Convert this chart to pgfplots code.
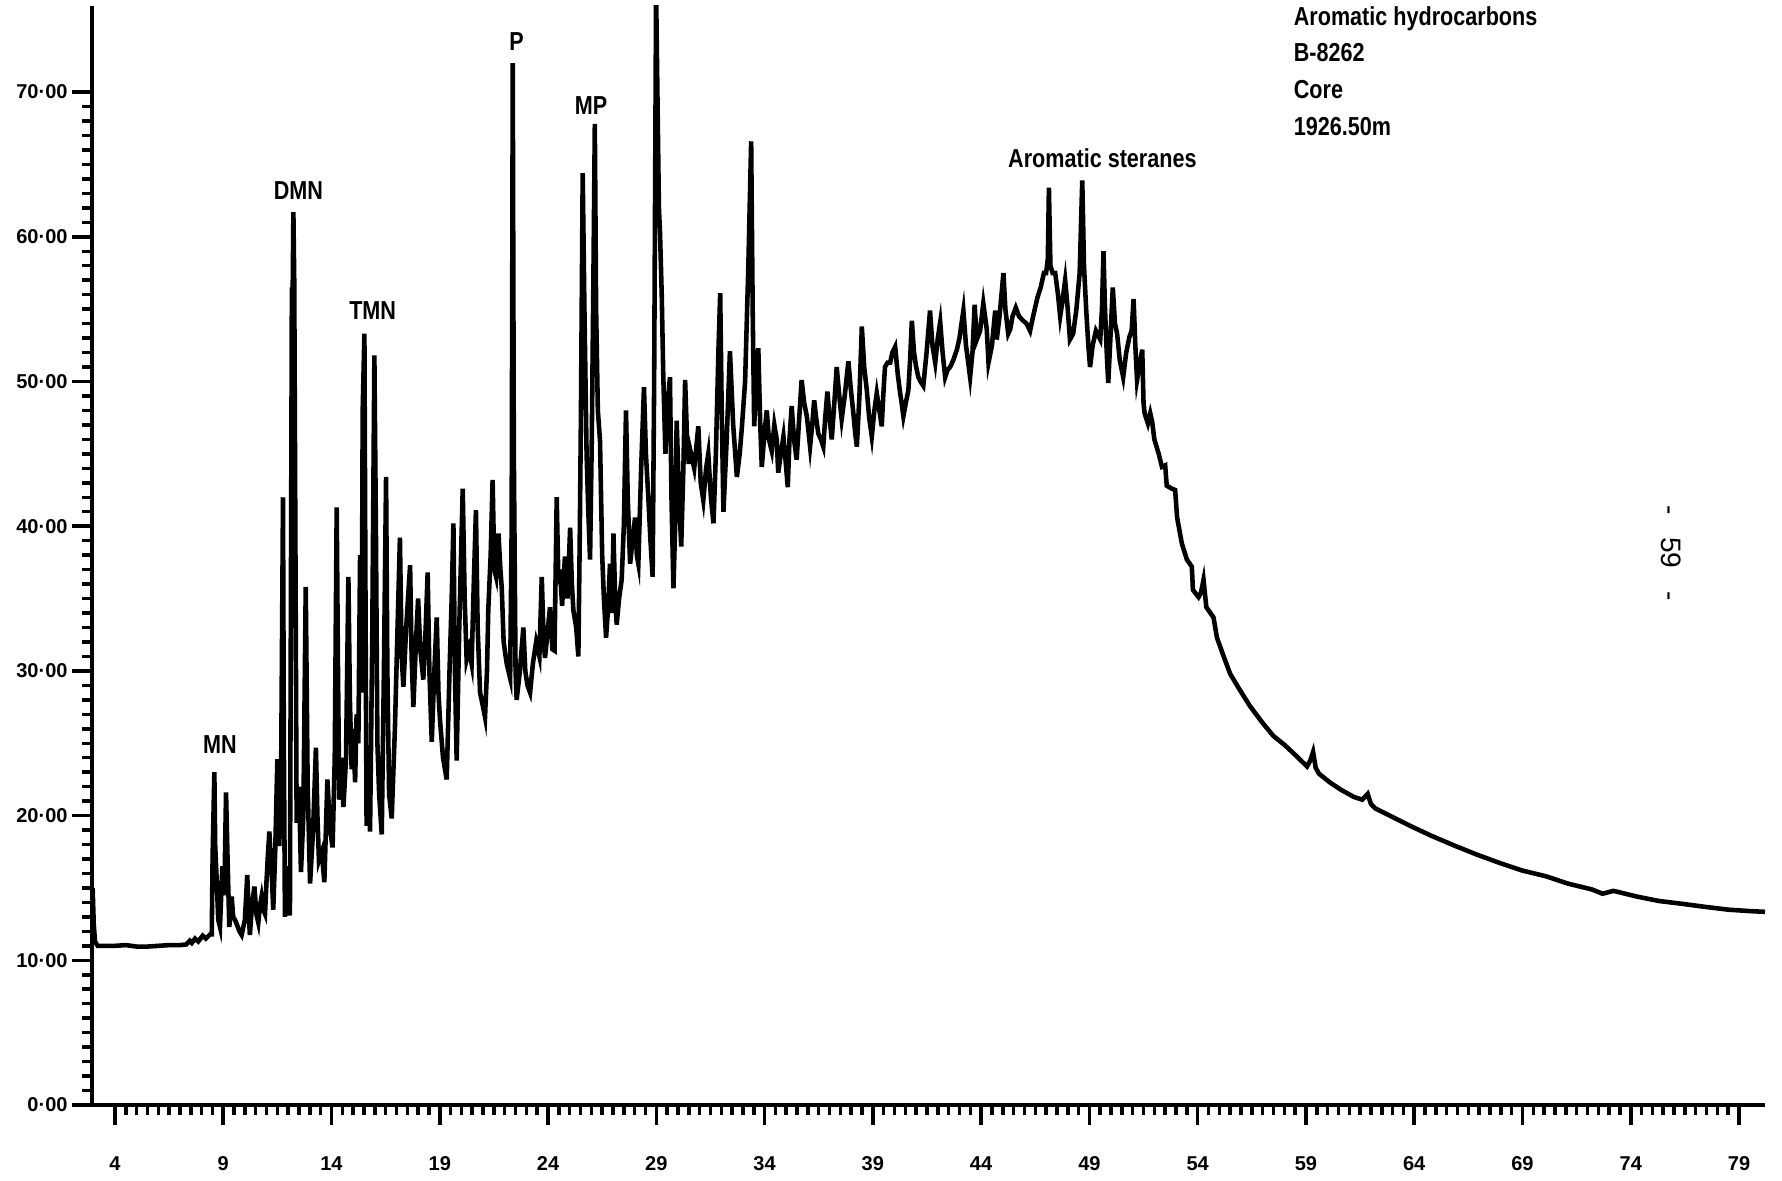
\documentclass[border=0pt]{standalone}
\usepackage{fontspec}
\setmainfont{Liberation Sans}
\newfontfamily\cond[FakeStretch=0.83]{Liberation Sans}
\usepackage{pgfplots}
\pgfplotsset{compat=1.18}
\begin{document}
\begin{tikzpicture}
\begin{axis}[
  name=main,
  width=16.73cm, height=10.99cm, scale only axis,
  xmin=2.94, xmax=80.2, ymin=0, ymax=75.95,
  axis x line*=bottom, axis y line*=left,
  axis line style={line width=1.2pt},
  tick align=outside,
  major tick length=0.2cm, minor tick length=0.1cm,
  every tick/.style={black, line width=1pt},
  xtick={4,9,14,19,24,29,34,39,44,49,54,59,64,69,74,79},
  xticklabels={4,9,14,19,24,29,34,39,44,49,54,59,64,69,74,79},
  minor x tick num=9,
  ytick={0,10,20,30,40,50,60,70},
  yticklabels={0·00,10·00,20·00,30·00,40·00,50·00,60·00,70·00},
  minor y tick num=9,
  ticklabel style={font=\fontsize{5.7}{6}\selectfont\bfseries},
  xticklabel style={yshift=-0.19cm},
  yticklabel style={xshift=0.08cm},
  clip mode=individual,
]
\addplot[black, line width=1.3pt] coordinates {
(2.97,15.0) (3.02,12.5) (3.08,11.3) (3.2,11.0) (4.0,11.0) (4.5,11.05) (5.0,10.95) (5.5,10.95) (6.0,11.0) (6.5,11.05) (7.0,11.05) (7.3,11.1) (7.45,11.35) (7.55,11.2) (7.7,11.5) (7.85,11.3) (8.05,11.7) (8.2,11.5) (8.4,11.8) (8.47,11.8)
(8.51,17.2) (8.59,23.0) (8.63,17.9) (8.7,15.5) (8.77,12.8) (8.85,12.3) (8.96,16.5) (9.05,14.5) (9.13,21.6) (9.2,17.0) (9.28,12.3) (9.39,14.4) (9.46,13.0) (9.54,12.8) (9.65,12.4) (9.75,12.0) (9.85,11.75) (10.0,12.8) (10.11,15.9) (10.17,13.5) (10.23,11.75) (10.33,13.8) (10.44,15.1) (10.53,13.2) (10.62,12.6) (10.7,13.8) (10.77,14.4) (10.85,13.5) (10.93,13.2) (11.0,15.5) (11.06,17.2) (11.13,18.9) (11.2,16.9) (11.24,16.0) (11.31,13.5) (11.4,17.5) (11.5,23.9) (11.55,21.0) (11.59,17.9) (11.68,24.3) (11.76,42.0) (11.8,25.0) (11.85,13.0) (11.92,16.5) (11.97,14.9) (12.08,13.1)
(12.17,56.5) (12.2,55.0) (12.24,61.7) (12.28,56.9) (12.33,40.0) (12.39,19.5) (12.5,22.0) (12.59,16.1) (12.7,20.0) (12.81,35.8) (12.9,22.0) (13.01,15.3) (13.15,19.0) (13.28,24.7) (13.35,20.0) (13.42,16.9) (13.55,17.5) (13.67,15.4) (13.81,22.5) (13.93,19.1) (14.05,17.8) (14.15,24.0) (14.24,41.3) (14.3,30.0) (14.36,21.1) (14.45,24.0) (14.55,20.6) (14.67,23.9) (14.78,36.5) (14.85,28.0) (14.93,23.2) (15.0,26.0) (15.09,22.3) (15.16,27.0) (15.24,25.0) (15.32,38.0) (15.39,28.5) (15.44,48.0) (15.52,53.3) (15.57,35.0) (15.62,19.3) (15.7,24.0) (15.78,18.9) (15.88,32.0) (15.98,51.8) (16.05,40.0) (16.12,25.0) (16.2,21.5) (16.32,18.7) (16.42,30.0) (16.52,43.4) (16.58,30.0) (16.66,21.5) (16.78,19.8) (16.93,26.1) (17.05,33.0) (17.16,39.2) (17.24,31.0) (17.32,28.9) (17.45,33.0) (17.63,37.3) (17.7,31.0) (17.78,27.5) (17.9,32.0) (18.0,35.0) (18.1,31.5) (18.24,29.4) (18.35,33.0) (18.44,36.8) (18.52,30.0) (18.63,25.1) (18.75,30.0) (18.86,33.7) (18.94,28.5) (19.01,26.6) (19.15,24.0) (19.32,22.5) (19.45,30.0) (19.55,35.0) (19.63,40.2) (19.7,30.0) (19.78,23.8) (19.9,33.0) (20.06,42.6) (20.15,35.0) (20.24,30.8) (20.35,31.5) (20.47,30.5) (20.57,36.0) (20.67,41.1) (20.75,33.0) (20.86,28.5) (21.0,27.5) (21.09,26.8) (21.18,30.0) (21.24,34.2) (21.35,38.0) (21.44,43.2) (21.52,37.0) (21.6,36.5) (21.71,39.5) (21.8,37.0) (21.86,35.8) (21.95,32.0) (22.09,30.5) (22.25,29.5) (22.32,40.0)
(22.37,72.0) (22.42,45.0) (22.5,30.0) (22.55,28.0) (22.7,30.0) (22.86,33.0) (22.95,30.0) (23.05,29.0) (23.17,28.5) (23.3,30.5) (23.45,32.0) (23.6,31.0) (23.71,36.5) (23.8,32.0) (23.86,30.9) (24.0,33.0) (24.09,34.4) (24.2,31.5) (24.3,31.4) (24.4,42.0) (24.48,36.0) (24.55,37.0) (24.65,34.5) (24.78,37.9) (24.9,35.0) (25.02,39.9) (25.1,36.0) (25.17,34.2) (25.3,33.0) (25.4,31.0) (25.47,40.0) (25.52,48.0) (25.6,64.4) (25.68,55.0) (25.78,45.0) (25.86,41.0) (25.94,37.7) (26.02,46.0) (26.1,58.0) (26.16,67.8) (26.22,55.0) (26.3,48.0) (26.4,45.9) (26.5,38.0) (26.58,35.0) (26.68,32.3) (26.78,34.5) (26.86,37.4) (26.95,34.0) (27.02,39.5) (27.1,35.0) (27.17,33.2) (27.28,35.0) (27.4,36.3) (27.5,40.0) (27.6,48.0) (27.68,42.0) (27.79,37.4) (27.9,39.0) (28.02,40.6) (28.1,38.0) (28.17,37.4) (28.3,44.0) (28.43,49.6) (28.52,45.0) (28.63,42.0) (28.73,39.0) (28.83,36.5) (28.9,50.0) (28.99,77.0) (29.05,70.0) (29.12,62.0) (29.17,60.3) (29.25,56.0) (29.32,50.5) (29.42,45.0) (29.5,48.0) (29.63,50.3) (29.7,42.0) (29.79,35.7) (29.87,40.0) (29.94,47.3) (30.05,42.0) (30.15,38.6) (30.25,44.0) (30.33,50.1) (30.42,46.0) (30.5,44.3)
(30.56,45.3) (30.75,44.0) (30.94,46.9) (31.05,43.0) (31.17,41.8) (31.3,44.0) (31.4,45.0) (31.52,42.0) (31.64,40.2) (31.75,45.0) (31.87,52.2) (31.95,56.1) (32.02,48.0) (32.1,41.0) (32.25,46.0) (32.4,52.1) (32.55,47.0) (32.72,43.4) (32.85,45.0) (32.95,46.8) (33.1,50.0) (33.25,58.0) (33.38,66.6) (33.45,55.0) (33.52,46.9) (33.62,50.0) (33.71,52.3) (33.8,47.0) (33.87,44.1) (34.0,46.5) (34.1,48.0) (34.2,46.0) (34.33,45.2) (34.45,47.0) (34.56,46.0) (34.63,43.7) (34.75,45.0) (34.87,46.2) (34.97,44.5) (35.07,42.7) (35.15,46.0) (35.25,48.3) (35.36,46.0) (35.48,44.6) (35.6,47.5) (35.71,50.1) (35.83,48.5) (35.95,47.6) (36.03,46.5) (36.1,45.5) (36.2,47.0) (36.29,48.7) (36.38,47.5) (36.48,46.4) (36.6,46.0) (36.71,45.5) (36.8,47.5) (36.9,49.3) (37.0,47.5) (37.1,46.0) (37.22,48.5) (37.33,51.0) (37.45,49.0) (37.56,47.4) (37.7,49.0) (37.87,51.4) (37.98,49.5) (38.1,47.8) (38.18,46.5) (38.26,45.5) (38.38,49.0) (38.49,53.8) (38.6,51.0) (38.72,49.4) (38.83,47.5) (38.95,46.2) (39.07,48.0) (39.18,49.2) (39.3,48.0) (39.41,46.9) (39.48,49.0) (39.56,51.0) (39.68,51.3) (39.8,51.3) (39.9,52.0) (40.03,52.4) (40.15,50.5) (40.26,49.2) (40.33,48.5) (40.41,47.6) (40.52,48.5) (40.64,49.4) (40.72,51.5) (40.8,54.2) (40.9,52.0) (41.0,51.0) (41.1,50.3) (41.2,50.0) (41.33,49.7) (41.48,52.0) (41.64,54.9) (41.75,52.5) (41.88,51.3) (42.0,53.0) (42.11,54.1) (42.22,52.0) (42.34,50.3) (42.45,50.8) (42.57,51.0) (42.72,51.5) (42.88,52.2) (43.0,53.0) (43.18,54.9) (43.3,52.5) (43.49,50.3) (43.6,52.0) (43.7,55.3) (43.8,52.9) (43.95,53.5) (44.1,55.4) (44.26,53.6) (44.34,51.3) (44.5,52.5) (44.65,54.9) (44.72,52.9) (44.85,54.5) (45.03,57.5) (45.12,55.0) (45.25,53.3) (45.34,53.6) (45.45,54.5) (45.6,55.1) (45.75,54.5) (45.94,54.2) (46.1,54.0) (46.26,53.5) (46.4,54.5) (46.6,55.8) (46.75,56.5) (46.9,57.5) (47.0,57.5) (47.08,58.5) (47.13,63.4) (47.2,58.0) (47.3,57.5) (47.42,57.5) (47.55,56.0) (47.65,54.5) (47.75,55.5) (47.88,57.0) (48.0,55.0) (48.1,52.9) (48.25,53.3) (48.4,55.0) (48.55,57.5) (48.67,63.9) (48.75,58.0) (48.85,55.0) (48.95,52.5) (49.03,51.0) (49.15,52.5) (49.3,53.5) (49.5,52.9) (49.58,55.0) (49.65,59.0) (49.72,55.0) (49.8,52.0) (49.87,49.9) (49.97,53.0) (50.08,56.5) (50.18,54.0) (50.28,53.3) (50.4,51.5) (50.56,50.3) (50.7,52.0) (50.85,53.1) (50.95,53.5) (51.04,55.7) (51.12,52.5) (51.2,50.1) (51.3,51.0) (51.44,52.2) (51.5,48.5) (51.55,47.8) (51.7,47.1) (51.81,47.8)
(51.9,47.2) (52.0,46.0) (52.2,45.0) (52.35,44.1) (52.5,44.2) (52.57,42.8) (52.8,42.6) (52.96,42.5) (53.05,40.6) (53.27,38.8) (53.5,37.7) (53.73,37.2) (53.78,35.6) (54.04,35.1) (54.15,35.4) (54.27,36.3) (54.4,34.4) (54.73,33.7) (54.89,32.3)
(55.2,31.0) (55.5,29.8) (55.9,28.8) (56.4,27.6) (57.0,26.4) (57.5,25.5) (58.0,24.9) (58.5,24.2) (59.05,23.4) (59.2,23.8) (59.33,24.4) (59.45,23.3) (59.6,22.9) (60.1,22.3) (60.6,21.8) (61.2,21.3) (61.6,21.1) (61.85,21.5) (62.0,20.8) (62.2,20.5) (63.0,19.9) (63.8,19.3) (64.8,18.6) (65.9,17.9) (66.9,17.3) (68.0,16.7) (69.0,16.2) (70.1,15.8) (71.1,15.3) (72.2,14.9) (72.7,14.6) (73.2,14.8) (74.3,14.4) (75.3,14.1) (76.4,13.9) (77.4,13.7) (78.5,13.5) (79.5,13.4) (80.2,13.35)
};
\tikzset{lab/.style={font=\cond\bfseries\fontsize{7.4}{8}\selectfont, inner sep=0pt}}
\node[lab] at (axis cs:8.85,24.9) {MN};
\node[lab] at (axis cs:12.47,63.2) {DMN};
\node[lab] at (axis cs:15.9,54.9) {TMN};
\node[lab] at (axis cs:22.55,73.5) {P};
\node[lab] at (axis cs:25.99,69.1) {MP};
\node[lab] at (axis cs:49.6,65.4) {Aromatic steranes};
\node[lab, anchor=west] at (axis cs:58.41,75.05) {Aromatic hydrocarbons};
\node[lab, anchor=west] at (axis cs:58.41,72.7) {B-8262};
\node[lab, anchor=west] at (axis cs:58.41,70.2) {Core};
\node[lab, anchor=west] at (axis cs:58.41,67.6) {1926.50m};
\node[font=\fontsize{8}{9}\selectfont, rotate=-90, inner sep=0pt] at (axis cs:75.87,38.15) {-\hspace{0.8em}59\hspace{0.8em}-};
\end{axis}
\pgfresetboundingbox
\path[use as bounding box] ([xshift=-0.92cm,yshift=-0.75cm]main.south west) rectangle ([xshift=0.17cm,yshift=0.06cm]main.north east);
\end{tikzpicture}
\end{document}
